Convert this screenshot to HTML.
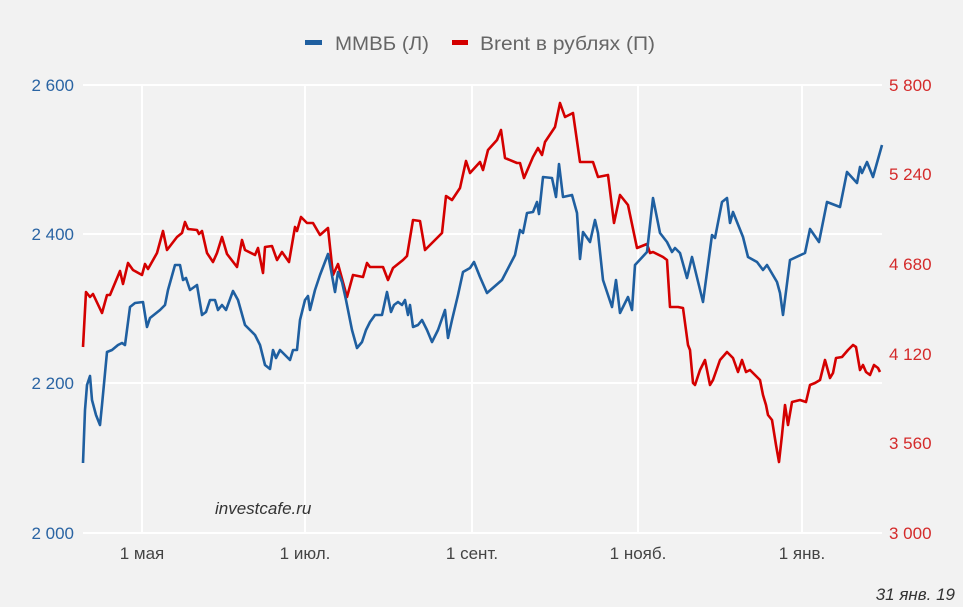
<!DOCTYPE html>
<html><head><meta charset="utf-8"><style>
body{margin:0;background:#f2f2f2;}
svg{display:block;font-family:"Liberation Sans","DejaVu Sans",sans-serif;}
</style></head><body>
<svg width="963" height="607" viewBox="0 0 963 607">
<rect width="963" height="607" fill="#f2f2f2"/>
<g stroke="#ffffff" stroke-width="2">
<line x1="83" y1="85" x2="882" y2="85"/>
<line x1="83" y1="234" x2="882" y2="234"/>
<line x1="83" y1="383" x2="882" y2="383"/>
<line x1="83" y1="533" x2="882" y2="533"/>
<line x1="142" y1="85" x2="142" y2="533"/>
<line x1="305" y1="85" x2="305" y2="533"/>
<line x1="472" y1="85" x2="472" y2="533"/>
<line x1="638" y1="85" x2="638" y2="533"/>
<line x1="802" y1="85" x2="802" y2="533"/>
</g>
<g font-size="17" fill="#2a64a3" text-anchor="end">
<text x="74" y="91">2 600</text><text x="74" y="240">2 400</text><text x="74" y="389">2 200</text><text x="74" y="539">2 000</text>
</g>
<g font-size="17" fill="#d42a2a">
<text x="889" y="91">5 800</text><text x="889" y="180">5 240</text><text x="889" y="270">4 680</text><text x="889" y="360">4 120</text><text x="889" y="449">3 560</text><text x="889" y="539">3 000</text>
</g>
<g font-size="17" fill="#444" text-anchor="middle">
<text x="142" y="559">1 мая</text><text x="305" y="559">1 июл.</text><text x="472" y="559">1 сент.</text><text x="638" y="559">1 нояб.</text><text x="802" y="559">1 янв.</text>
</g>
<text x="215" y="514" font-size="17" font-style="italic" fill="#333">investcafe.ru</text>
<text x="955" y="600" font-size="17" font-style="italic" fill="#333" text-anchor="end">31 янв. 19</text>
<rect x="305" y="40" width="17" height="5" fill="#1f5fa0"/>
<text x="335" y="50" font-size="19" fill="#666" textLength="94" lengthAdjust="spacingAndGlyphs">ММВБ (Л)</text>
<rect x="452" y="40" width="16" height="5" fill="#d40000"/>
<text x="480" y="50" font-size="19" fill="#666" textLength="175" lengthAdjust="spacingAndGlyphs">Brent в рублях (П)</text>
<polyline fill="none" stroke="#d40000" stroke-width="2.6" stroke-linejoin="round" points="83,347 86,292 90,297 93,294 102,313 107,295 110,295 120,271 123,284 128,263 133,270 142,275 145,264 148,269 157,253 163,231 167,250 177,237 182,233 185,222 188,229 197,230 199,234 202,231 207,253 213,262 217,253 222,237 227,254 237,267 242,240 245,250 255,255 258,248 263,273 265,247 272,246 277,260 282,252 289,262 295,227 297,231 301,217 307,223 313,223 320,235 328,228 333,275 338,264 347,297 353,275 363,277 367,263 370,267 383,267 388,280 393,268 403,260 407,256 413,220 420,221 425,250 433,242 442,233 446,196 452,200 460,188 466,161 470,173 480,162 483,170 488,150 497,140 501,130 505,158 517,163 520,163 524,178 533,157 538,148 542,155 545,142 555,127 560,103 565,117 573,113 580,162 593,162 598,177 608,175 614,223 620,195 628,205 637,248 647,244 650,253 653,252 663,257 667,260 670,307 678,307 683,308 688,345 690,350 693,383 695,385 700,370 705,360 710,385 713,380 720,360 727,352 733,358 738,372 742,360 746,372 750,370 755,375 760,380 763,395 766,405 768,415 772,420 776,445 779,462 782,435 785,405 788,425 792,402 800,400 806,402 810,385 815,383 820,380 825,360 830,378 833,373 836,358 842,357 848,350 853,345 856,347 860,370 863,365 866,372 870,375 874,365 878,368 880,372"/>
<polyline fill="none" stroke="#1f5fa0" stroke-width="2.6" stroke-linejoin="round" points="83,463 85,410 87,385 90,376 92,400 96,415 100,425 102,405 107,352 112,350 118,345 122,343 125,345 130,307 135,303 143,302 147,327 150,318 160,310 165,305 168,290 175,265 180,265 183,280 186,278 190,290 197,285 202,315 206,312 210,300 215,300 218,310 222,305 226,310 233,291 238,300 245,325 255,335 260,345 265,365 270,369 273,350 276,358 280,350 285,355 290,360 293,350 297,350 300,320 305,300 308,296 310,310 315,290 320,275 328,254 331,270 335,292 338,272 342,282 346,300 352,330 357,348 362,342 366,330 370,322 375,315 382,315 387,292 391,312 394,305 398,302 402,305 405,300 408,315 410,305 413,327 418,325 422,320 427,330 432,342 438,330 445,310 448,338 452,320 458,295 463,272 470,268 474,262 480,277 487,293 502,280 515,255 520,230 523,233 527,213 533,212 537,202 539,214 543,177 552,178 556,197 559,164 563,197 572,195 577,213 580,259 583,232 590,242 595,220 598,233 603,280 612,307 616,280 620,313 628,297 632,310 635,265 647,252 653,198 660,233 667,242 672,252 675,248 680,253 687,278 692,257 703,302 712,235 715,238 722,202 727,198 730,223 733,212 743,237 748,257 757,262 763,270 767,265 777,282 780,293 783,315 790,260 805,253 810,229 819,242 827,202 840,207 847,172 857,183 860,167 862,173 867,162 873,177 882,145"/>
</svg>
</body></html>
